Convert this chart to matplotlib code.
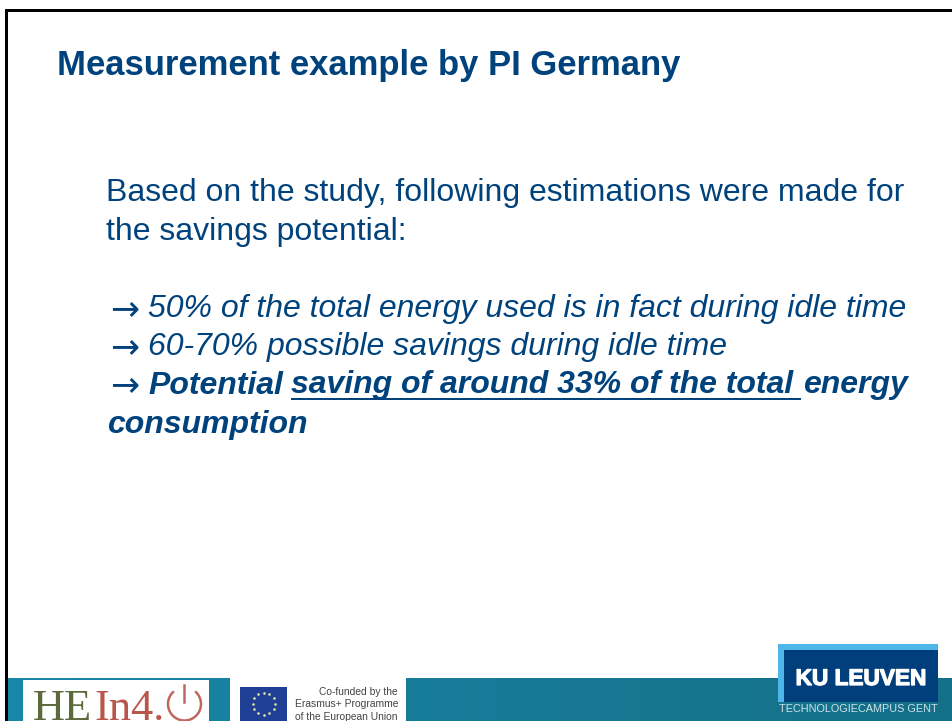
import numpy as np
import matplotlib
matplotlib.use('Agg')
import matplotlib.pyplot as plt
import matplotlib.patheffects as pe
from matplotlib.patches import Rectangle, Arc

# Slide text
title = 'Measurement example by PI Germany'
intro_lines = ['Based on the study, following estimations were made for',
               'the savings potential:']
arrow = '\u2192'
arrow_lines = ['50% of the total energy used is in fact during idle time',
               '60-70% possible savings during idle time']
bold_start = 'Potential'
bold_underlined = 'saving of around 33% of the total'
bold_end = 'energy'
last_line = 'consumption'
eu_lines = ['Co-funded by the', 'Erasmus+ Programme', 'of the European Union']

W, H = 953, 721
blue = '#00427c'
body = 23.0

plt.rcParams['font.family'] = ['Liberation Sans', 'DejaVu Sans']

fig = plt.figure(figsize=(W / 100, H / 100), dpi=100)
ax = fig.add_axes([0, 0, 1, 1])
ax.set_xlim(0, W)
ax.set_ylim(H, 0)
ax.axis('off')


def rect(x0, y0, x1, y1, color, z=1):
    ax.add_patch(Rectangle((x0, y0), x1 - x0, y1 - y0, fc=color, ec='none', zorder=z))


# Slide border
rect(5, 9, W, 12, 'black')
rect(5, 9, 8, H, 'black')

# Bottom band
band = np.linspace(0, 1, 256).reshape(1, -1, 1)
c0 = np.array([0x1a, 0x87, 0xa9]) / 255
c1 = np.array([0x14, 0x6f, 0x88]) / 255
ax.imshow(c0 + (c1 - c0) * band, extent=(8, W, H, 678), aspect='auto', zorder=1)
ax.set_xlim(0, W)
ax.set_ylim(H, 0)

# Text
ax.text(57, 75, title, fontsize=24.95, fontweight='bold', color=blue, zorder=3)
ax.text(106, 201, intro_lines[0], fontsize=body, color=blue)
ax.text(106, 240, intro_lines[1], fontsize=body, color=blue)

for y in [319, 357, 395.5]:
    ax.text(110, y, arrow, family='DejaVu Sans', fontsize=25, color=blue)
ax.text(148, 317, arrow_lines[0], fontsize=body, style='italic', color=blue)
ax.text(148, 355, arrow_lines[1], fontsize=body, style='italic', color=blue)

ax.text(148, 393.5, bold_start, fontsize=body, style='italic', fontweight='bold', color=blue)
ax.text(291, 393.5, bold_underlined, fontsize=body, style='italic', fontweight='bold', color=blue)
rect(291, 397.5, 801, 400, blue)
ax.text(803, 393.5, bold_end, fontsize=body, style='italic', fontweight='bold', color=blue)
ax.text(107, 432.5, last_line, fontsize=body, style='italic', fontweight='bold', color=blue)

# HEIn4.0 logo
rect(23, 680, 209, H, 'white', 2)
ax.text(33, 720, 'HE', family='Liberation Serif', fontsize=32, color='#5d6b3c', zorder=3)
ax.text(94, 720, 'In4.', family='Liberation Serif', fontsize=32, color='#b9564c', zorder=3)
ax.add_patch(Arc((184.5, 704), 33, 33, theta1=-50, theta2=230, ec='#c0685e', lw=1.8, zorder=3))
ax.plot([184.5, 184.5], [685, 702], color='#c0685e', lw=1.8, zorder=3)

# Erasmus+ block
rect(230, 678, 406, H, 'white', 2)
rect(240, 687, 287, H, '#1f3f94', 3)
stars = np.arange(12) * np.pi / 6
ax.scatter(264 + 11 * np.cos(stars), 703.5 + 11 * np.sin(stars), s=3.5, color='#e3e2a8', lw=0, zorder=4)
for y, line in zip([695, 707, 719.5], eu_lines):
    ax.text(398, y, line, fontsize=7.4, color='#444444', ha='right', zorder=3)

# KU Leuven logo
rect(778, 644, 938, 702, '#4fb6e9', 3)
rect(784, 650, 938, 702, '#003f7c', 4)
ax.text(861, 685, 'KU LEUVEN', fontsize=16.3, fontweight='bold', color='white', ha='center', zorder=5,
        path_effects=[pe.withStroke(linewidth=0.9, foreground='white')])
ax.text(858.5, 712, 'TECHNOLOGIECAMPUS GENT', fontsize=7.85, color='#cfe3ea', ha='center', zorder=5)

fig.savefig('out.png', dpi=100)
